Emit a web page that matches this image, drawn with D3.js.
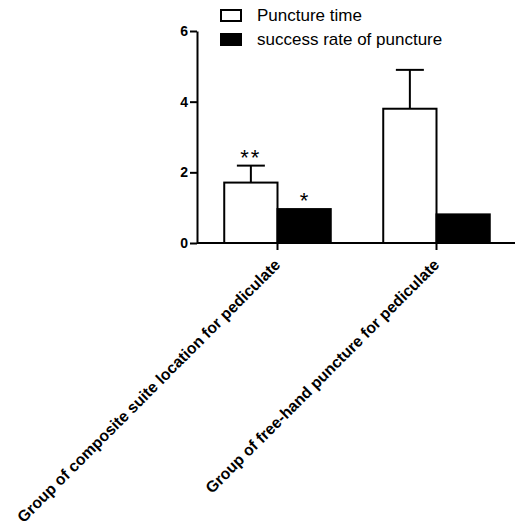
<!DOCTYPE html>
<html>
<head>
<meta charset="utf-8">
<script src="https://cdn.jsdelivr.net/npm/d3@7"></script>
<style>
  html, body { margin: 0; padding: 0; background: #fff; }
  svg { display: block; }
</style>
</head>
<body>
<svg id="chart" width="515" height="531"></svg>
<script>
const categories = ["Group of composite suite location for pediculate", "Group of free-hand puncture for pediculate"];
const seriesNames = ["Puncture time", "success rate of puncture"];
const punctureTime = [1.71, 3.8];
const punctureTimeErr = [0.48, 1.1];
const successRate = [0.96, 0.81];
const successRateErr = [0, 0];
const punctureTimeStars = ["**", ""];
const successRateStars = ["*", ""];
const yTicks = [0, 2, 4, 6];
const seriesFill = ["#ffffff", "#000000"];

const svg = d3.select("#chart");
const y = d3.scaleLinear().domain([0, 6]).range([243, 31]);
const x0 = d3.scaleBand().domain(categories).range([198, 516]).paddingInner(0.33).paddingOuter(0.165);
const x1 = d3.scaleBand().domain(seriesNames).range([0, x0.bandwidth()]);

const rows = categories.map((c, i) => ({
  cat: c,
  vals: [
    {s: seriesNames[0], v: punctureTime[i], e: punctureTimeErr[i], star: punctureTimeStars[i]},
    {s: seriesNames[1], v: successRate[i], e: successRateErr[i], star: successRateStars[i]}
  ]
}));

const g = svg.append("g");
rows.forEach(r => {
  r.vals.forEach((d, k) => {
    const bx = x0(r.cat) + x1(d.s);
    const bw = x1.bandwidth();
    g.append("rect")
      .attr("x", bx).attr("y", y(d.v))
      .attr("width", bw).attr("height", y(0) - y(d.v))
      .attr("fill", seriesFill[k]).attr("stroke", "#000").attr("stroke-width", 2);
    const cx = bx + bw / 2;
    let topY = y(d.v);
    if (d.e > 0) {
      topY = y(d.v + d.e);
      g.append("line").attr("x1", cx).attr("x2", cx).attr("y1", y(d.v)).attr("y2", topY)
        .attr("stroke", "#000").attr("stroke-width", 2);
      g.append("line").attr("x1", cx - 14).attr("x2", cx + 14).attr("y1", topY).attr("y2", topY)
        .attr("stroke", "#000").attr("stroke-width", 2);
    }
    if (d.star) {
      g.append("text").attr("x", cx).attr("y", topY - 1)
        .attr("text-anchor", "middle")
        .attr("font-family", "Liberation Sans, Arial, sans-serif")
        .attr("font-size", 22)
        .attr("letter-spacing", d.star.length > 1 ? 2 : 0)
        .text(d.star);
    }
  });
});

// y axis
const yAxis = svg.append("g").attr("transform", "translate(197,0)")
  .call(d3.axisLeft(y).tickValues(yTicks).tickFormat(d3.format("d")).tickSize(7).tickPadding(2).tickSizeOuter(0));
yAxis.select(".domain").attr("stroke-width", 2);
yAxis.selectAll(".tick line").attr("stroke-width", 2);
yAxis.selectAll(".tick text")
  .attr("font-family", "Liberation Sans, Arial, sans-serif")
  .attr("font-size", 14).attr("font-weight", "bold").attr("fill", "#000");

// x axis
const xAxis = svg.append("g").attr("transform", "translate(0,243)")
  .call(d3.axisBottom(x0).tickSize(7).tickSizeOuter(0).tickFormat(""));
xAxis.select(".domain").attr("d", "M197,0H515").attr("stroke-width", 2);
xAxis.selectAll(".tick line").attr("stroke-width", 2);

// x labels
svg.append("g").selectAll("text").data(categories).join("text")
  .attr("transform", d => `translate(${x0(d) + x0.bandwidth() / 2 - 4},${258}) rotate(-45)`)
  .attr("text-anchor", "end")
  .attr("font-family", "Liberation Sans, Arial, sans-serif")
  .attr("font-size", 15.8).attr("font-weight", "bold")
  .attr("dy", "0.7em")
  .text(d => d);

// legend
const leg = svg.append("g");
seriesNames.forEach((s, i) => {
  leg.append("rect").attr("x", 221).attr("y", 10 + i * 24).attr("width", 20).attr("height", 11)
    .attr("fill", seriesFill[i]).attr("stroke", "#000").attr("stroke-width", 2);
  leg.append("text").attr("x", 257).attr("y", 15.5 + i * 24).attr("dy", "0.35em")
    .attr("font-family", "Liberation Sans, Arial, sans-serif")
    .attr("font-size", 17)
    .text(s);
});
</script>
</body>
</html>
